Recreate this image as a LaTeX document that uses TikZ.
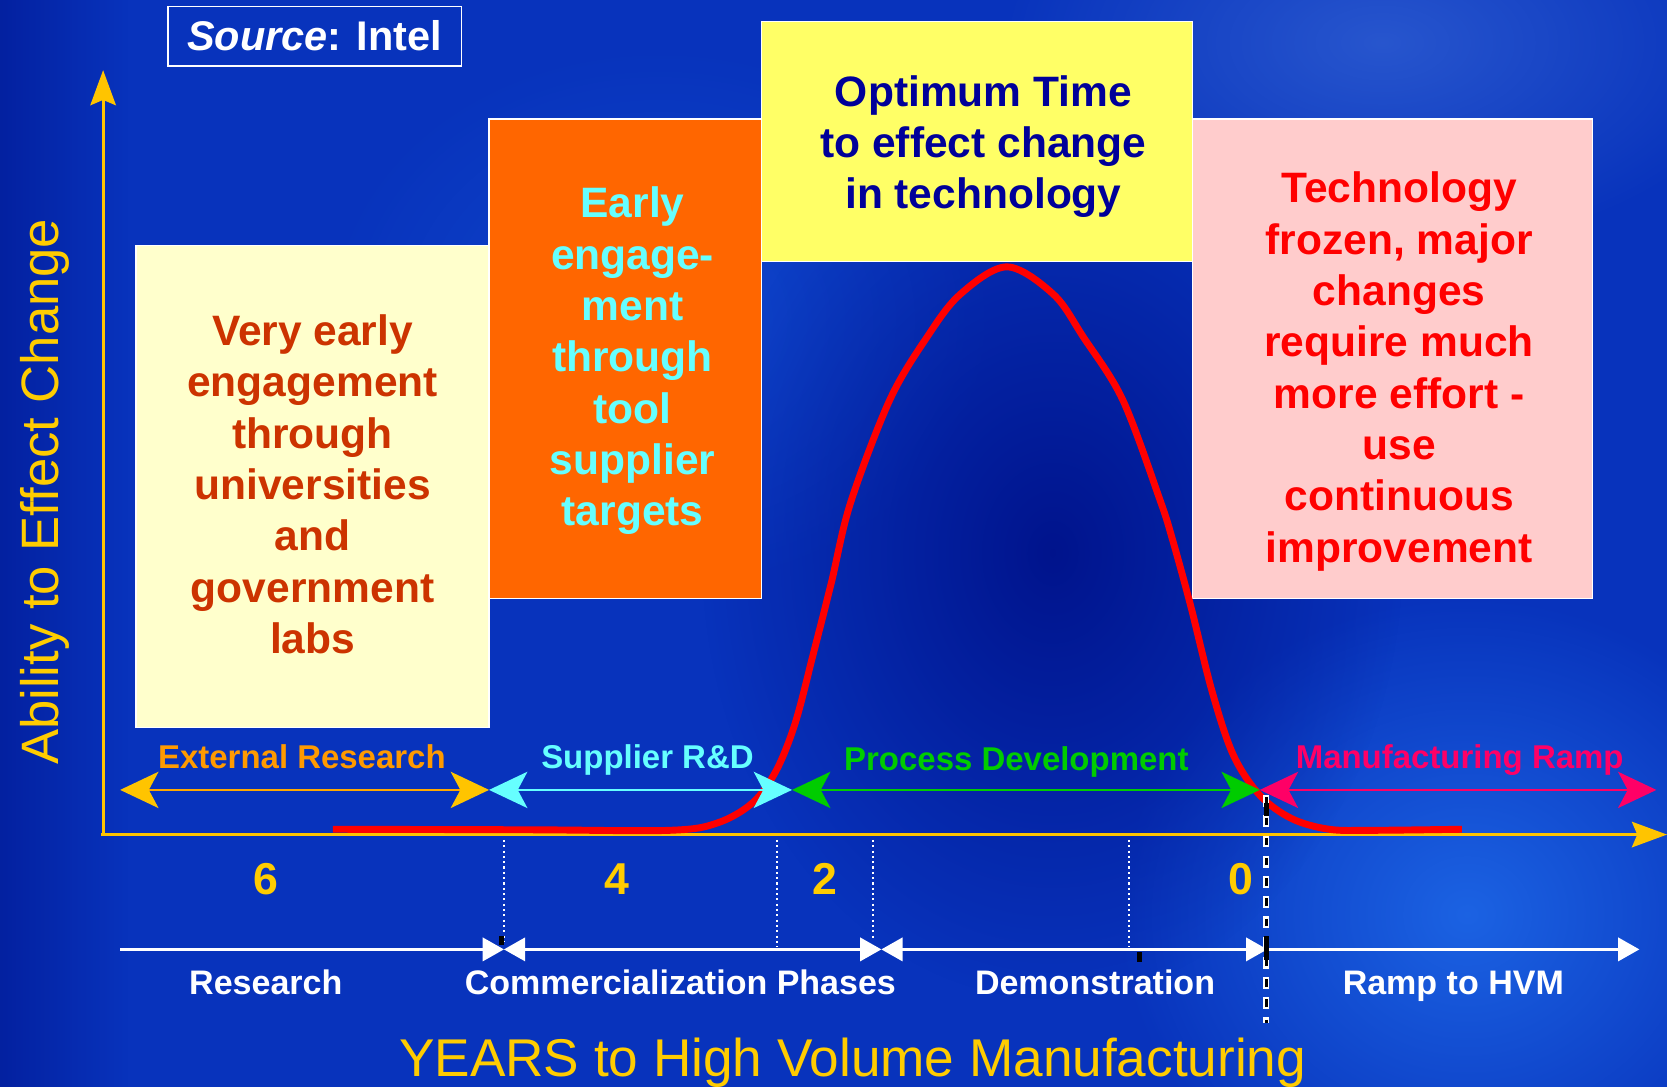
\documentclass[tikz,border=0pt]{standalone}
\usepackage{fontspec}
\setmainfont{Liberation Sans}
\usetikzlibrary{arrows.meta,fadings}
\definecolor{bgblue}{HTML}{0833BC}
\definecolor{navyb}{HTML}{00128A}
\definecolor{lightbg}{HTML}{1F6BEA}
\definecolor{axisy}{HTML}{FFC400}
\definecolor{numy}{HTML}{FFCC00}
\definecolor{extor}{HTML}{FF9A00}
\definecolor{cyanx}{HTML}{66FFFF}
\definecolor{greenx}{HTML}{00CC00}
\definecolor{pinkx}{HTML}{FF0066}
\definecolor{boxA}{HTML}{FFFFCC}
\definecolor{boxB}{HTML}{FF6600}
\definecolor{boxC}{HTML}{FFFF66}
\definecolor{boxD}{HTML}{FFCCCC}
\definecolor{txtA}{HTML}{CC3300}
\definecolor{txtC}{HTML}{000099}
\tikzfading[name=softc, inner color=transparent!0, outer color=transparent!100]
\tikzset{
  infobox/.style={draw=white, line width=1.2pt, inner sep=0pt},
  boxtxt/.style={inner sep=0pt, align=center, font=\fontsize{40}{48.3}\selectfont\bfseries},
  phasearrow/.style={line width=2.6pt},
  phasetxt/.style={anchor=base, font=\fontsize{31}{36}\selectfont\bfseries},
  numtxt/.style={anchor=base, text=numy, font=\fontsize{42}{48}\selectfont\bfseries},
  bottxt/.style={anchor=base, text=white, font=\fontsize{32}{38}\selectfont\bfseries},
  whiteline/.style={draw=white, line width=2.4pt},
  vdot/.style={draw=white, line width=2pt, dash pattern=on 2pt off 3pt},
  btip/.tip={Triangle[length=20pt,width=22pt]},
  ptip/.tip={Stealth[length=36pt,width=34pt,inset=9pt]},
}
\begin{document}
\begin{tikzpicture}[x=1pt,y=-1pt]
\useasboundingbox (0,0) rectangle (1568,1022);
% background
\fill[bgblue] (0,0) rectangle (1568,1022);
\fill[lightbg, path fading=softc, opacity=.85] (1380,860) ellipse [x radius=330pt, y radius=300pt];
\fill[lightbg!70!white, path fading=softc, opacity=.35] (1300,40) ellipse [x radius=360pt, y radius=200pt];
\fill[lightbg, path fading=softc, opacity=.35] (620,300) ellipse [x radius=320pt, y radius=260pt];
\fill[navyb, path fading=softc, opacity=.95] (990,520) ellipse [x radius=330pt, y radius=420pt];
\fill[navyb, path fading=east, opacity=.55] (0,0) rectangle (120,1022);

% source box
\node[draw=white, line width=1.5pt, minimum width=276pt, minimum height=56pt, inner sep=0pt,
  text=white, font=\fontsize{39}{44}\selectfont\bfseries] (src) at (296,34) {\textit{Source}: Intel};

% boxes
\node[infobox, fill=boxA, minimum width=332pt, minimum height=453pt] (early) at (294,457.5) {};
\node[infobox, fill=boxB, minimum width=256pt, minimum height=451pt] (supp) at (588,337.5) {};
\node[infobox, fill=boxC, minimum width=406pt, minimum height=226pt] (opt) at (919,133) {};
\node[infobox, fill=boxD, minimum width=376pt, minimum height=451pt] (frozen) at (1310,337.5) {};
\node[boxtxt, text=txtA] (earlyT) at (294,455.5)
  {Very early\\engagement\\through\\universities\\and\\government\\labs};
\node[boxtxt, text=cyanx] (suppT) at (595,339.5)
  {Early\\engage-\\ment\\through\\tool\\supplier\\targets};
\node[boxtxt, text=txtC] (optT) at (925,138)
  {Optimum Time\\to effect change\\in technology};
\node[boxtxt, text=red] (frozenT) at (1316,349.5)
  {Technology\\frozen, major\\changes\\require much\\more effort -\\use\\continuous\\improvement};

% axes
\coordinate (orig) at (97,785);
\coordinate (ytop) at (97,66);
\coordinate (xend) at (1568,785);
\draw[axisy, line width=2.6pt, -{Stealth[length=33pt,width=24pt,inset=5pt]}] (97,786) -- (ytop);
\draw[axisy, line width=2.6pt, -{Stealth[length=33pt,width=24pt,inset=5pt]}] (95,785) -- (xend);

% red curve
\draw[red, line width=6.5pt, line join=round] plot[smooth, tension=0.55] coordinates {
 (313,780) (500,780.5) (630,781) (675,774) (708,755) (730,725) (748,680) (765,615)
 (782,548) (800,473) (837,376) (872,317) (903,277) (947,251) (991,277) (1019,317)
 (1056,376) (1091,470) (1103,508) (1120,570) (1140,650) (1160,710) (1185,748)
 (1215,770) (1250,780) (1290,781) (1375,780)};

% phase arrows
\coordinate (p0) at (113,743);
\coordinate (p1) at (460,743);
\coordinate (p2) at (745,743);
\coordinate (p3) at (1185,743);
\coordinate (p4) at (1558,743);
\draw[phasearrow, draw={rgb,255:red,255;green,168;blue,0},
  {ptip[color=axisy]}-{ptip[color=axisy]}] (p0) -- (p1);
\draw[phasearrow, draw=cyanx, {ptip}-{ptip}] (p1) -- (p2);
\draw[phasearrow, draw=greenx, {ptip}-{ptip}] (p2) -- (p3);
\draw[phasearrow, draw=pinkx, {ptip}-{ptip}] (p3) -- (p4);
\node[phasetxt, text=extor] (lext) at (284,723) {External Research};
\node[phasetxt, text=cyanx] (lsup) at (609,723) {Supplier R\&D};
\node[phasetxt, text=greenx] (lproc) at (956,725) {Process Development};
\node[phasetxt, text=pinkx] (lmfg) at (1373,723) {Manufacturing Ramp};

% numbers
\node[numtxt] (n6) at (250,841) {6};
\node[numtxt] (n4) at (580,841) {4};
\node[numtxt] (n2) at (776,841) {2};
\node[numtxt] (n0) at (1167,841) {0};

% dotted verticals
\coordinate (d1a) at (474,790); \coordinate (d1b) at (474,886);
\coordinate (d2a) at (731,790); \coordinate (d2b) at (731,891);
\coordinate (d3a) at (821,790); \coordinate (d3b) at (821,884);
\coordinate (d4a) at (1062,790); \coordinate (d4b) at (1062,891);
\draw[vdot] (d1a) -- (d1b);
\draw[vdot] (d2a) -- (d2b);
\draw[vdot] (d3a) -- (d3b);
\draw[vdot] (d4a) -- (d4b);
% dashed marker at 0
\coordinate (m0a) at (1191,748); \coordinate (m0b) at (1191,962);
\draw[white, line width=6pt, dash pattern=on 11pt off 8pt] (m0a) -- (m0b);
\draw[black, line width=3pt, dash pattern=on 7pt off 12pt, dash phase=-2pt] (m0a) -- (m0b);

% bottom phase arrows
\coordinate (b0) at (113,893);
\coordinate (b1) at (474,893);
\coordinate (b2) at (829,893);
\coordinate (b3) at (1192,893);
\coordinate (b4) at (1542,893);
\draw[whiteline, -{btip}] (b0) -- (b1);
\draw[whiteline, {btip}-{btip}] (b1) -- (b2);
\draw[whiteline, {btip}-{btip}] (b2) -- (b3);
\draw[whiteline, -{btip}] (b3) -- (b4);
\fill[black] (469,880) rectangle (474,889);
\fill[black] (1069,895) rectangle (1074,905);
\fill[black] (1189,880) rectangle (1194,903);
\fill[black] (1189,755) rectangle (1194,768);

\node[bottxt] (lres) at (250,935) {Research};
\node[bottxt] (lcom) at (640,935) {Commercialization Phases};
\node[bottxt] (ldem) at (1030,935) {Demonstration};
\node[bottxt] (lramp) at (1367,935) {Ramp to HVM};

% axis labels
\node[anchor=base, rotate=90, text=numy, font=\fontsize{49.5}{55}\selectfont] (ylab) at (55,462.5) {Ability to Effect Change};
\node[anchor=base, text=numy, font=\fontsize{50}{56}\selectfont] (xlab) at (802,1013) {YEARS to High Volume Manufacturing};
\end{tikzpicture}
\end{document}
